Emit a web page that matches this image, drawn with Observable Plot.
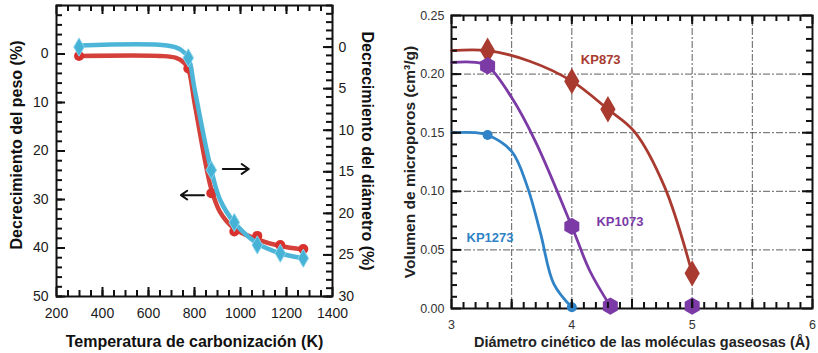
<!DOCTYPE html>
<html><head><meta charset="utf-8">
<script src="https://cdn.jsdelivr.net/npm/d3@7"></script>
<script src="https://cdn.jsdelivr.net/npm/@observablehq/plot@0.6"></script>
<style>
body{margin:0;background:#fff;width:818px;height:353px;overflow:hidden;position:relative;font-family:"Liberation Sans",Arial,sans-serif}
#left{position:absolute;left:0;top:0}
#right{position:absolute;left:400px;top:0}
svg{overflow:visible}
</style></head><body><div id="left"></div><div id="right"></div>
<script>
// ---------- Left panel data ----------
const temps = [298, 773, 873, 973, 1073, 1173, 1273];
const weightLoss = [0.4, 3.0, 28.7, 36.6, 37.5, 39.4, 40.2];      // left axis (%)
const diameterLoss = [0.0, 1.3, 14.8, 21.1, 23.8, 24.8, 25.4];    // right axis (%)
// smooth fitted curves
const weightCurveT = [298, 650, 720, 755, 773, 800, 850, 873, 910, 973, 1073, 1173, 1273];
const weightCurveV = [0.4, 0.4, 0.8, 1.8, 3.0, 10.0, 23.0, 27.8, 32.5, 36.0, 38.2, 39.6, 40.3];
const diameterCurveT = [298, 680, 740, 773, 800, 850, 873, 910, 973, 1073, 1173, 1273];
const diameterCurveV = [-0.2, -0.2, 0.3, 1.3, 5.0, 12.0, 14.8, 18.3, 21.1, 23.6, 24.8, 25.4];
const tempTicks = [200, 400, 600, 800, 1000, 1200, 1400];
const weightTicks = [0, 10, 20, 30, 40, 50];
const diameterTicks = [0, 5, 10, 15, 20, 25, 30];
const arrowRight = [{x1: 923, x2: 1036, y: 23.7}];
const arrowLeft = [{x1: 841, x2: 741, y: 29.1}];

// ---------- Right panel data ----------
const diamTicks = [3, 4, 5, 6];
const volTicks = [0.00, 0.05, 0.10, 0.15, 0.20, 0.25];
const kp873X = [3.3, 4.0, 4.3, 5.0];
const kp873Y = [0.220, 0.194, 0.170, 0.030];
const kp1073X = [3.3, 4.0, 4.32, 5.0];
const kp1073Y = [0.207, 0.070, 0.002, 0.002];
const kp1273X = [3.3, 4.0];
const kp1273Y = [0.148, 0.001];
const kp873CurveX = [3.0, 3.3, 3.65, 4.0, 4.3, 4.52, 4.77, 5.0];
const kp873CurveY = [0.220, 0.220, 0.211, 0.194, 0.170, 0.151, 0.104, 0.030];
const kp1073CurveX = [3.0, 3.2, 3.3, 3.5, 3.7, 4.0, 4.15, 4.32];
const kp1073CurveY = [0.210, 0.210, 0.207, 0.180, 0.142, 0.070, 0.032, 0.002];
const kp1273CurveX = [3.0, 3.2, 3.3, 3.5, 3.63, 3.74, 3.85, 4.0];
const kp1273CurveY = [0.150, 0.150, 0.148, 0.134, 0.104, 0.064, 0.021, 0.001];
const seriesNames = ["KP873", "KP1073", "KP1273"];
const labelX = [4.24, 4.40, 3.32];
const labelY = [0.212, 0.074, 0.060];
const seriesColors = ["#a83a2f", "#7b3aa6", "#2f83c6"];

const black = "#111";
const tickW = 2;
// inward frame ticks, drawn as short rules whose length is converted from pixels to data units
function frameTicksX(vals, lenPx, yd, fh, reverseY) {
  const u = lenPx * Math.abs(yd[1] - yd[0]) / fh;
  const bottom = reverseY ? yd[1] : yd[0], top = reverseY ? yd[0] : yd[1];
  const s = reverseY ? -1 : 1;
  return [
    Plot.ruleX(vals, {x: d => d, y1: () => bottom, y2: () => bottom + s * u, stroke: black, strokeWidth: tickW}),
    Plot.ruleX(vals, {x: d => d, y1: () => top, y2: () => top - s * u, stroke: black, strokeWidth: tickW})
  ];
}
function frameTicksY(vals, lenPx, xd, fw, sides) {
  const u = lenPx * (xd[1] - xd[0]) / fw;
  const out = [];
  if (sides.includes("left")) out.push(Plot.ruleY(vals, {y: d => d, x1: () => xd[0], x2: () => xd[0] + u, stroke: black, strokeWidth: tickW}));
  if (sides.includes("right")) out.push(Plot.ruleY(vals, {y: d => d, x1: () => xd[1], x2: () => xd[1] - u, stroke: black, strokeWidth: tickW}));
  return out;
}

// ---------- Left panel ----------
const toLeft = r => -10 + (r + 5) * 60 / 35;   // diameter axis -> weight axis units
const fromLeft = v => (v + 10) * 35 / 60 - 5;
const redPts = temps.map((t, i) => ({t, v: weightLoss[i]}));
const bluePts = temps.map((t, i) => ({t, v: toLeft(diameterLoss[i])}));
const redCurve = weightCurveT.map((t, i) => ({t, v: weightCurveV[i]}));
const blueCurve = diameterCurveT.map((t, i) => ({t, v: toLeft(diameterCurveV[i])}));

const L = {w: 400, h: 353, ml: 56, mr: 68, mt: 5, mb: 57};
const Lfw = L.w - L.ml - L.mr, Lfh = L.h - L.mt - L.mb;
const Lx = [200, 1400], Ly = [-10, 50];
const leftPlot = Plot.plot({
  width: L.w, height: L.h,
  marginLeft: L.ml, marginRight: L.mr, marginTop: L.mt, marginBottom: L.mb,
  style: {fontFamily: "'Liberation Sans', Arial, sans-serif", fontSize: "14px", color: "#1a1a1a", background: "transparent"},
  x: {domain: Lx},
  y: {domain: Ly, reverse: true},
  marks: [
    Plot.axisX({ticks: tempTicks, tickSize: 0, tickPadding: 12, tickFormat: d => String(d), label: null}),
    Plot.axisY({ticks: weightTicks, tickSize: 0, tickPadding: 8, label: null}),
    Plot.axisY({anchor: "right", ticks: diameterTicks.map(toLeft), tickSize: 0, tickPadding: 6, tickFormat: d => String(Math.round(fromLeft(d))), label: null}),
    Plot.frame({stroke: black, strokeWidth: 2}),
    // series
    Plot.line(redCurve, {x: "t", y: "v", curve: "catmull-rom", stroke: "#d4403a", strokeWidth: 4.5}),
    Plot.dot(redPts, {x: "t", y: "v", r: 5, fill: "#d8312e"}),
    Plot.line(blueCurve, {x: "t", y: "v", curve: "catmull-rom", stroke: "#4db6d8", strokeWidth: 4.5}),
    Plot.dot(bluePts, {x: "t", y: "v", r: 5.5, symbol: "diamond", fill: "#46b2d6", stroke: "#86d3ec", strokeWidth: 1}),
    // arrows
    Plot.arrow(arrowRight, {x1: "x1", x2: "x2", y1: "y", y2: "y", stroke: black, strokeWidth: 2, headLength: 9, headAngle: 70}),
    Plot.arrow(arrowLeft, {x1: "x1", x2: "x2", y1: "y", y2: "y", stroke: black, strokeWidth: 2, headLength: 9, headAngle: 70}),
    // titles
    Plot.text(["Temperatura de carbonización (K)"], {frameAnchor: "bottom", dy: 50, text: d => d, textAnchor: "middle", fontWeight: "bold", fontSize: 16, fill: black}),
    Plot.text(["Decrecimiento del peso (%)"], {frameAnchor: "left", dx: -40, dy: -6, rotate: -90, text: d => d, textAnchor: "middle", fontWeight: "bold", fontSize: 16, fill: black}),
    Plot.text(["Decrecimiento del diámetro (%)"], {frameAnchor: "right", dx: 35, rotate: 90, text: d => d, textAnchor: "middle", fontWeight: "bold", fontSize: 16, fill: black}),
    // inward frame ticks (drawn last)
    ...frameTicksX(d3.range(250, 1400, 50), 6, Ly, Lfh, true),
    ...frameTicksX(tempTicks, 9, Ly, Lfh, true),
    ...frameTicksY(d3.range(-10, 51, 2), 6, Lx, Lfw, ["left"]),
    ...frameTicksY(weightTicks, 9, Lx, Lfw, ["left"]),
    ...frameTicksY(d3.range(-5, 31, 1).map(toLeft), 6, Lx, Lfw, ["right"]),
    ...frameTicksY(diameterTicks.map(toLeft), 9, Lx, Lfw, ["right"])
  ]
});
document.getElementById("left").appendChild(leftPlot);

// ---------- Right panel ----------
const mk = (xs, ys) => xs.map((x, i) => ({x, y: ys[i]}));
const p873 = mk(kp873X, kp873Y), p1073 = mk(kp1073X, kp1073Y), p1273 = mk(kp1273X, kp1273Y);
const c873 = mk(kp873CurveX, kp873CurveY), c1073 = mk(kp1073CurveX, kp1073CurveY), c1273 = mk(kp1273CurveX, kp1273CurveY);
const labels = seriesNames.map((name, i) => ({name, x: labelX[i], y: labelY[i], c: seriesColors[i]}));
const gridDash = "7,2,2,2";

const R = {w: 418, h: 353, ml: 51, mr: 6, mt: 15, mb: 45};
const Rfw = R.w - R.ml - R.mr, Rfh = R.h - R.mt - R.mb;
const Rx = [3, 6], Ry = [0, 0.25];
const rightPlot = Plot.plot({
  width: R.w, height: R.h,
  marginLeft: R.ml, marginRight: R.mr, marginTop: R.mt, marginBottom: R.mb,
  style: {fontFamily: "'Liberation Sans', Arial, sans-serif", fontSize: "12.5px", color: "#333", background: "transparent"},
  x: {domain: Rx},
  y: {domain: Ry},
  marks: [
    Plot.gridX([3.5, 4, 4.5, 5, 5.5], {stroke: "#444", strokeOpacity: 0.85, strokeWidth: 1, strokeDasharray: gridDash}),
    Plot.gridY([0.05, 0.10, 0.15, 0.20], {stroke: "#444", strokeOpacity: 0.85, strokeWidth: 1, strokeDasharray: gridDash}),
    Plot.axisX({ticks: diamTicks, tickSize: 0, tickPadding: 12, tickFormat: d => String(d), label: null}),
    Plot.axisY({ticks: volTicks, tickSize: 0, tickPadding: 7, tickFormat: d3.format(".2f"), label: null}),
    Plot.frame({stroke: black, strokeWidth: 2}),
    // curves
    Plot.line(c873, {x: "x", y: "y", curve: "catmull-rom", stroke: seriesColors[0], strokeWidth: 2.8}),
    Plot.line(c1073, {x: "x", y: "y", curve: "catmull-rom", stroke: seriesColors[1], strokeWidth: 2.8}),
    Plot.line(c1273, {x: "x", y: "y", curve: "catmull-rom", stroke: seriesColors[2], strokeWidth: 2.8}),
    // points
    Plot.dot(p873, {x: "x", y: "y", symbol: "diamond", r: 8, fill: seriesColors[0]}),
    Plot.dot(p1073, {x: "x", y: "y", symbol: "hexagon", r: 7.5, fill: seriesColors[1]}),
    Plot.dot(p1273, {x: "x", y: "y", symbol: "circle", r: 5, fill: seriesColors[2]}),
    // series labels
    Plot.text(labels, {x: "x", y: "y", text: "name", fill: "c", fontWeight: "bold", fontSize: 13}),
    // titles
    Plot.text(["Diámetro cinético de las moléculas gaseosas (Å)"], {frameAnchor: "bottom", dy: 38, dx: 10, text: d => d, textAnchor: "middle", fontWeight: "bold", fontSize: 14.5, fill: "#222"}),
    Plot.text(["Volumen de microporos (cm³/g)"], {frameAnchor: "left", dx: -41, rotate: -90, text: d => d, textAnchor: "middle", fontWeight: "bold", fontSize: 15.5, fill: "#222"}),
    // inward frame ticks (drawn last)
    ...frameTicksX(d3.range(31, 60, 1).map(d => d / 10), 6, Ry, Rfh, false),
    ...frameTicksX([3, 3.5, 4, 4.5, 5, 5.5, 6], 9, Ry, Rfh, false),
    ...frameTicksY(d3.range(1, 25, 1).map(d => d / 100), 6, Rx, Rfw, ["left", "right"]),
    ...frameTicksY(volTicks, 10, Rx, Rfw, ["left", "right"])
  ]
});
document.getElementById("right").appendChild(rightPlot);
</script>
</body></html>
